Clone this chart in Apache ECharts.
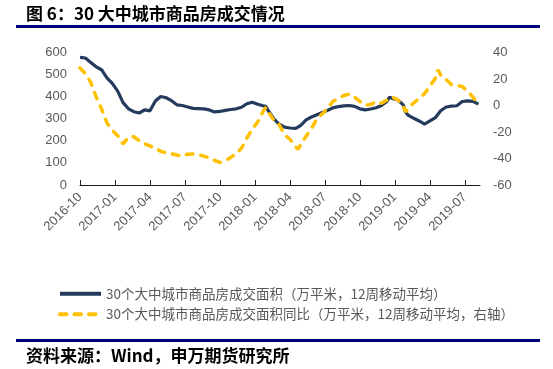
<!DOCTYPE html>
<html><head><meta charset="utf-8">
<script src="https://cdn.jsdelivr.net/npm/echarts@6/dist/echarts.min.js"></script>
<style>html,body{margin:0;padding:0;background:#fff}#c{width:553px;height:369px}</style>
</head><body><div id="c"></div>
<script>
var titleText = '图 6：30 大中城市商品房成交情况';
var sourceText = '资料来源：Wind，申万期货研究所';
var seriesNames = ['30个大中城市商品房成交面积（万平米，12周移动平均）', '30个大中城市商品房成交面积同比（万平米，12周移动平均，右轴）'];
var tickLabels = ['2016-10','2017-01','2017-04','2017-07','2017-10','2018-01','2018-04','2018-07','2018-10','2019-01','2019-04','2019-07'];
var tickWeeks = [0,13,26,39,52,65,78,91,104,117,130,143];
var weeks = [0,2,4,6,8,10,12,14,16,18,20,22,24,26,28,30,32,34,36,38,40,42,44,46,48,50,52,54,56,58,60,62,64,66,68,69,70,72,74,76,78,80,81,82,84,86,88,90,92,94,96,98,100,102,104,106,108,110,112,114,115,116,118,120,121,122,124,126,128,130,132,133,134,136,138,140,142,144,146,148];
var area = [578,575,555,535,522,485,460,425,373,345,332,326,340,336,380,401,395,382,363,360,353,347,346,345,340,331,333,338,342,345,352,368,375,366,359,356,335,300,275,262,258,256,262,270,295,308,318,328,338,350,355,358,360,356,345,340,344,350,360,378,398,392,386,364,330,315,302,290,276,290,305,320,336,353,357,359,378,381,379,366];
var yoy = [28.3,24,17.5,6.5,-2.5,-13,-18.8,-22.8,-29,-24,-23.6,-26.5,-28.8,-30.5,-32.3,-34.6,-35.7,-36.4,-37.4,-38.2,-36.7,-36.6,-37.2,-38.2,-39.5,-41.5,-43,-41.5,-39.3,-36.2,-32.3,-24.5,-18,-12.5,-4.5,-1.5,-5,-11,-14.5,-22,-25.5,-31,-33,-29.5,-23.2,-17.4,-10,-6.3,-2,3.2,5.3,7.5,8.6,6.4,3,0.3,0.8,2.8,1.7,4,5.5,6.3,4.5,-0.5,-4.8,-2,2,5.3,9,14.5,20.5,27,23,19.6,15.8,15.2,14.3,10.8,6.3,0.5];

function pairs(ys){ return weeks.map(function(w,i){ return [w, ys[i]]; }); }

var chart = echarts.init(document.getElementById('c'), null, {renderer:'canvas'});
var labelColor = '#595959';
chart.setOption({
  animation: false,
  backgroundColor: '#fff',
  grid: {left: 80, right: 73, top: 52.5, bottom: 184, containLabel: false},
  legend: {
    orient: 'vertical', left: 53, top: 282, itemWidth: 41, itemHeight: 14, itemGap: 7,
    itemStyle: {color: 'rgba(0,0,0,0)', borderWidth: 0, opacity: 0},
    lineStyle: {width: 4},
    textStyle: {color: labelColor, fontSize: 13.5, fontFamily: '"Noto Sans CJK SC", sans-serif'},
    data: seriesNames
  },
  xAxis: {
    type: 'value', min: 0, max: 148.6, interval: 13,
    axisLine: {show: true, lineStyle: {color: '#1a1a1a', width: 1}},
    axisTick: {show: true, inside: true, length: 5, customValues: tickWeeks, lineStyle: {color: '#1a1a1a'}},
    splitLine: {show: false},
    axisLabel: {
      customValues: tickWeeks, rotate: 45, margin: 10, color: labelColor, fontSize: 13,
      fontFamily: '"Liberation Sans", sans-serif',
      formatter: function(v){ var k = tickWeeks.indexOf(Math.round(v)); return k >= 0 ? tickLabels[k] : ''; }
    }
  },
  yAxis: [
    {type: 'value', min: 0, max: 600, interval: 100, position: 'left',
     axisLine: {show: false}, axisTick: {show: false}, splitLine: {show: false},
     axisLabel: {color: labelColor, fontSize: 13, margin: 13, fontFamily: '"Liberation Sans", sans-serif'}},
    {type: 'value', min: -60, max: 40, interval: 20, position: 'right',
     axisLine: {show: false}, axisTick: {show: false}, splitLine: {show: false},
     axisLabel: {color: labelColor, fontSize: 13, margin: 13, fontFamily: '"Liberation Sans", sans-serif'}}
  ],
  series: [
    {name: seriesNames[0], type: 'line', yAxisIndex: 0, data: pairs(area), showSymbol: false, symbol: 'none',
     lineStyle: {color: '#243B5E', width: 3.2}, itemStyle: {color: '#243B5E'}},
    {name: seriesNames[1], type: 'line', yAxisIndex: 1, data: pairs(yoy), showSymbol: false, symbol: 'none',
     lineStyle: {color: '#FFC000', width: 3.5, type: [6.5, 8], cap: 'round'}, itemStyle: {color: '#FFC000'}}
  ],
  graphic: [
    {type: 'text', left: 26, top: 5, style: {text: titleText, fill: '#000', font: 'bold 17px "Noto Sans CJK SC", sans-serif'}},
    {type: 'rect', shape: {x: 16, y: 25, width: 524, height: 3}, style: {fill: '#00007A'}},
    {type: 'rect', shape: {x: 16, y: 339, width: 524, height: 3}, style: {fill: '#00007A'}},
    {type: 'text', left: 26, top: 347, style: {text: sourceText, fill: '#000', font: 'bold 17px "Noto Sans CJK SC", sans-serif'}}
  ]
});
</script></body></html>
